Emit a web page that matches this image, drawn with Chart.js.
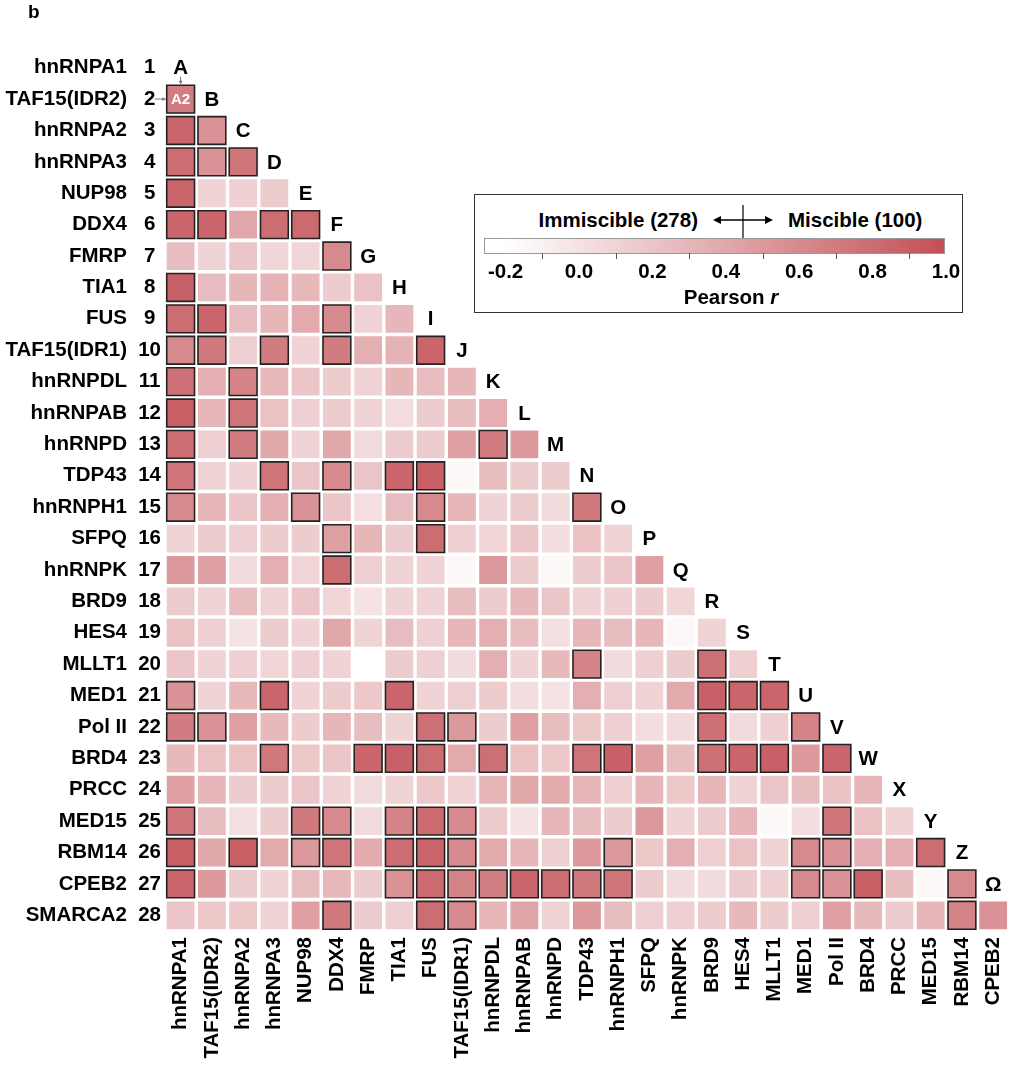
<!DOCTYPE html>
<html>
<head>
<meta charset="utf-8">
<title>Pairwise miscibility heatmap</title>
<script src="https://cdn.jsdelivr.net/npm/chart.js@4.4.0/dist/chart.umd.min.js"></script>
<style>
    html, body { margin: 0; padding: 0; background: #fff; }
    #wrap { position: relative; width: 1024px; height: 1089px; font-family: "Liberation Sans", Arial, sans-serif; color: #000; }
    #panel-label { position: absolute; left: 28px; top: 1px; font-size: 19px; font-weight: bold; }
    #legend { position: absolute; left: 474px; top: 194px; width: 487px; height: 117px; border: 1px solid #333; background: #fff; }
    #legend .txt { position: absolute; font-size: 20.5px; font-weight: bold; line-height: 24px; white-space: nowrap; }
    #legend .bar { position: absolute; left: 9px; top: 43px; width: 459px; height: 14px; border: 1px solid #999; }
    #legend .tick { position: absolute; top: 58px; width: 1px; height: 6px; background: #555; }
</style>
</head>
<body>
<div id="wrap">
    <canvas id="heatmap"></canvas>
    <div id="panel-label">b</div>
    <div id="legend"></div>
</div>
<script>
// proteins in row / column order
const proteins = ['hnRNPA1', 'TAF15(IDR2)', 'hnRNPA2', 'hnRNPA3', 'NUP98', 'DDX4', 'FMRP', 'TIA1', 'FUS',
    'TAF15(IDR1)', 'hnRNPDL', 'hnRNPAB', 'hnRNPD', 'TDP43', 'hnRNPH1', 'SFPQ', 'hnRNPK', 'BRD9', 'HES4',
    'MLLT1', 'MED1', 'Pol II', 'BRD4', 'PRCC', 'MED15', 'RBM14', 'CPEB2', 'SMARCA2'];

// letters written on the diagonal
const diagLetters = ['A', 'B', 'C', 'D', 'E', 'F', 'G', 'H', 'I', 'J', 'K', 'L', 'M', 'N', 'O', 'P', 'Q',
    'R', 'S', 'T', 'U', 'V', 'W', 'X', 'Y', 'Z', 'Ω'];

// Pearson r, row by row (row i holds columns 1..i-1)
const pearsonR = [
    [],
    [0.7],
    [0.85, 0.55],
    [0.8, 0.55, 0.75],
    [0.85, 0.1, 0.12, 0.15],
    [0.85, 0.85, 0.4, 0.8, 0.82],
    [0.25, 0.1, 0.2, 0.08, 0.08, 0.6],
    [0.88, 0.25, 0.3, 0.32, 0.28, 0.15, 0.22],
    [0.8, 0.85, 0.25, 0.3, 0.38, 0.6, 0.1, 0.3],
    [0.6, 0.72, 0.12, 0.7, 0.1, 0.7, 0.35, 0.32, 0.85],
    [0.78, 0.35, 0.65, 0.28, 0.2, 0.15, 0.1, 0.3, 0.25, 0.3],
    [0.9, 0.3, 0.75, 0.22, 0.12, 0.15, 0.1, 0.03, 0.15, 0.25, 0.35],
    [0.8, 0.12, 0.7, 0.4, 0.1, 0.4, 0.05, 0.15, 0.15, 0.45, 0.7, 0.5],
    [0.75, 0.1, 0.1, 0.75, 0.2, 0.6, 0.2, 0.85, 0.9, -0.15, 0.25, 0.15, 0.15],
    [0.6, 0.3, 0.2, 0.35, 0.55, 0.2, 0.02, 0.25, 0.6, 0.3, 0.1, 0.15, 0.05, 0.72],
    [0.1, 0.15, 0.12, 0.15, 0.15, 0.45, 0.3, 0.15, 0.8, 0.12, 0.08, 0.2, 0.03, 0.22, 0.1],
    [0.5, 0.45, 0.05, 0.35, 0.08, 0.8, 0.12, 0.1, 0.1, -0.15, 0.5, 0.15, -0.15, 0.15, 0.2, 0.45],
    [0.15, 0.1, 0.25, 0.1, 0.2, 0.08, 0.0, 0.1, 0.1, 0.25, 0.15, 0.28, 0.2, 0.1, 0.12, 0.15, 0.08],
    [0.22, 0.12, 0.0, 0.15, 0.1, 0.4, 0.1, 0.25, 0.12, 0.3, 0.35, 0.25, 0.02, 0.3, 0.25, 0.3, -0.15, 0.1],
    [0.2, 0.1, 0.12, 0.08, 0.12, 0.1, -0.2, 0.15, 0.12, 0.05, 0.35, 0.1, 0.28, 0.65, 0.05, 0.12, 0.15, 0.78, 0.12],
    [0.55, 0.1, 0.28, 0.85, 0.1, 0.15, 0.18, 0.85, 0.1, 0.12, 0.15, 0.03, 0.0, 0.35, 0.12, 0.1, 0.38, 0.88, 0.85, 0.85],
    [0.7, 0.55, 0.45, 0.28, 0.15, 0.3, 0.25, 0.1, 0.78, 0.5, 0.15, 0.45, 0.25, 0.18, 0.12, 0.03, 0.05, 0.78, 0.05, 0.12, 0.65],
    [0.28, 0.22, 0.22, 0.72, 0.18, 0.2, 0.85, 0.88, 0.8, 0.38, 0.78, 0.22, 0.18, 0.75, 0.88, 0.45, 0.25, 0.78, 0.85, 0.88, 0.5, 0.85],
    [0.45, 0.3, 0.15, 0.15, 0.2, 0.1, 0.05, 0.1, 0.18, 0.1, 0.3, 0.4, 0.38, 0.3, 0.12, 0.3, 0.18, 0.3, 0.1, 0.2, 0.25, 0.22, 0.3],
    [0.75, 0.25, 0.02, 0.15, 0.72, 0.6, 0.05, 0.65, 0.82, 0.6, 0.15, 0.0, 0.3, 0.25, 0.15, 0.5, 0.1, 0.15, 0.3, -0.15, 0.03, 0.75, 0.22, 0.1],
    [0.9, 0.4, 0.9, 0.38, 0.5, 0.75, 0.38, 0.8, 0.85, 0.6, 0.38, 0.3, 0.12, 0.5, 0.5, 0.18, 0.35, 0.12, 0.22, 0.1, 0.6, 0.55, 0.35, 0.35, 0.8],
    [0.85, 0.5, 0.15, 0.1, 0.25, 0.28, 0.15, 0.55, 0.82, 0.65, 0.68, 0.85, 0.8, 0.72, 0.75, 0.15, 0.05, 0.05, 0.15, 0.12, 0.6, 0.55, 0.9, 0.25, -0.15, 0.6],
    [0.2, 0.18, 0.18, 0.1, 0.45, 0.72, 0.15, 0.12, 0.8, 0.6, 0.3, 0.42, 0.1, 0.5, 0.25, 0.12, 0.12, 0.15, 0.28, 0.15, 0.12, 0.45, 0.28, 0.15, 0.3, 0.65, 0.55]
];

// columns of the miscible (outlined) pairs in each row
const miscibleCols = [
    [], [1], [1, 2], [1, 2, 3], [1], [1, 2, 4, 5], [6], [1], [1, 2, 6], [1, 2, 4, 6, 9],
    [1, 3], [1, 3], [1, 3, 11], [1, 4, 6, 8, 9], [1, 5, 9, 14], [6, 9], [6], [], [],
    [14, 18], [1, 4, 8, 18, 19, 20], [1, 2, 9, 10, 18, 21],
    [4, 7, 8, 9, 11, 14, 15, 18, 19, 20, 22], [],
    [1, 5, 6, 8, 9, 10, 22], [1, 3, 5, 6, 8, 9, 10, 15, 21, 22, 25],
    [1, 8, 9, 10, 11, 12, 13, 14, 15, 21, 22, 23, 26], [6, 9, 10, 26]
];

// colour scale
const rMin = -0.2;
const rMax = 1.0;
const legendTicks = [-0.2, 0.0, 0.2, 0.4, 0.6, 0.8, 1.0];
const legendMinorTicks = [-0.1, 0.1, 0.3, 0.5, 0.7, 0.9];
const lowRGB = [255, 255, 255];
const highRGB = [194, 80, 86];

const FONT = '"Liberation Sans", Arial, sans-serif';

function rColor(v) {
    const t = Math.max(0, Math.min(1, (v - rMin) / (rMax - rMin)));
    const c = lowRGB.map((lo, k) => Math.round(lo + (highRGB[k] - lo) * t));
    return `rgb(${c[0]}, ${c[1]}, ${c[2]})`;
}

// build cells
const cells = [];
const cellFill = [];
const cellBorder = [];
const cellBorderWidth = [];
pearsonR.forEach((row, i) => {
    row.forEach((v, j) => {
        const mis = miscibleCols[i].includes(j + 1);
        cells.push({ x: j + 1, y: i + 1, r: v });
        cellFill.push(rColor(v));
        cellBorder.push(mis ? '#222' : rColor(v));
        cellBorderWidth.push(mis ? 1.6 : 0);
    });
});

// half-diagonal of a square cell that fills ~89% of one column step
function cellRadius(ctx) {
    const s = ctx.chart.scales.x;
    const step = Math.abs(s.getPixelForValue(2) - s.getPixelForValue(1));
    return step * 0.89 / Math.SQRT2;
}

function drawArrow(ctx, x1, y1, x2, y2) {
    const a = Math.atan2(y2 - y1, x2 - x1);
    ctx.beginPath();
    ctx.moveTo(x1, y1);
    ctx.lineTo(x2, y2);
    ctx.stroke();
    ctx.beginPath();
    ctx.moveTo(x2, y2);
    ctx.lineTo(x2 - 4 * Math.cos(a - 0.5), y2 - 4 * Math.sin(a - 0.5));
    ctx.lineTo(x2 - 4 * Math.cos(a + 0.5), y2 - 4 * Math.sin(a + 0.5));
    ctx.closePath();
    ctx.fill();
}

// letters on the diagonal plus the A2 example
const diagonalPlugin = {
    id: 'diagonalLetters',
    afterDatasetsDraw(chart) {
        const { ctx, scales: { x, y } } = chart;
        ctx.save();
        ctx.fillStyle = '#000';
        ctx.font = 'bold 20.5px ' + FONT;
        ctx.textAlign = 'center';
        ctx.textBaseline = 'middle';
        diagLetters.forEach((l, i) => {
            ctx.fillText(l, x.getPixelForValue(i + 1), y.getPixelForValue(i + 1) + 1);
        });

        const cx = x.getPixelForValue(1);
        const cy = y.getPixelForValue(2);
        const half = cellRadius({ chart }) / Math.SQRT2;
        ctx.fillStyle = '#fff';
        ctx.font = 'bold 15px ' + FONT;
        ctx.fillText('A2', cx, cy + 1);

        ctx.strokeStyle = '#7a7a7a';
        ctx.fillStyle = '#7a7a7a';
        ctx.lineWidth = 1;
        drawArrow(ctx, cx, y.getPixelForValue(1) + 9, cx, cy - half - 1);
        drawArrow(ctx, cx - half - 12, cy, cx - half - 1, cy);
        ctx.restore();
    }
};

function fixedTicks(count) {
    return scale => {
        scale.ticks = Array.from({ length: count }, (_, i) => ({ value: i + 1 }));
    };
}

const tickFont = { family: FONT, size: 20.5, weight: 'bold' };
const noGrid = { display: false, drawTicks: false };

new Chart(document.getElementById('heatmap'), {
    type: 'scatter',
    data: {
        datasets: [{
            data: cells,
            pointStyle: 'rect',
            pointRadius: cellRadius,
            pointHoverRadius: cellRadius,
            backgroundColor: cellFill,
            borderColor: cellBorder,
            borderWidth: cellBorderWidth,
            yAxisID: 'y'
        }]
    },
    options: {
        responsive: true,
        maintainAspectRatio: false,
        animation: false,
        events: [],
        layout: { padding: { top: 52, right: 12, left: 0, bottom: 0 } },
        plugins: {
            legend: { display: false },
            tooltip: { enabled: false }
        },
        scales: {
            x: {
                type: 'linear',
                position: 'bottom',
                min: 0.5,
                max: 27.5,
                afterBuildTicks: fixedTicks(27),
                afterFit: scale => { scale.height = 158; },
                grid: noGrid,
                border: { display: false },
                ticks: {
                    autoSkip: false,
                    minRotation: 90,
                    maxRotation: 90,
                    padding: 6,
                    color: '#000',
                    font: tickFont,
                    callback: v => proteins[v - 1]
                }
            },
            y: {
                type: 'linear',
                position: 'left',
                weight: 0,
                reverse: true,
                min: 0.5,
                max: 28.5,
                afterBuildTicks: fixedTicks(28),
                afterFit: scale => { scale.width = 30; },
                grid: noGrid,
                border: { display: false },
                ticks: {
                    autoSkip: false,
                    crossAlign: 'center',
                    padding: 4,
                    color: '#000',
                    font: tickFont,
                    callback: v => String(v)
                }
            },
            yName: {
                type: 'linear',
                position: 'left',
                weight: 1,
                reverse: true,
                min: 0.5,
                max: 28.5,
                afterBuildTicks: fixedTicks(28),
                afterFit: scale => { scale.width = 135; },
                grid: noGrid,
                border: { display: false },
                ticks: {
                    autoSkip: false,
                    crossAlign: 'near',
                    padding: 8,
                    color: '#000',
                    font: tickFont,
                    callback: v => proteins[v - 1]
                }
            }
        }
    },
    plugins: [diagonalPlugin]
});

// colour bar legend (box at left 474)
function buildLegend() {
    const box = document.getElementById('legend');
    const boxLeft = 474;
    const xOf = v => 578 + 367 * v - boxLeft;   // value -> x inside the box
    const barLeft = 9, barWidth = 461;

    const add = (html, style, cls) => {
        const el = document.createElement('div');
        el.className = cls || 'txt';
        el.innerHTML = html;
        Object.assign(el.style, style);
        box.appendChild(el);
        return el;
    };

    add('Immiscible (278)', { right: (487 - 223) + 'px', top: '13px' });
    add('Miscible (100)', { left: '313px', top: '13px' });

    const startPct = ((xOf(rMin) - barLeft) / barWidth * 100).toFixed(1);
    add('', { background: `linear-gradient(to right, ${rColor(rMin)} 0%, ${rColor(rMin)} ${startPct}%, ${rColor(rMax)} 100%)` }, 'bar');

    legendMinorTicks.forEach(v => add('', { left: xOf(v) + 'px' }, 'tick'));
    legendTicks.forEach(v => {
        add(v.toFixed(1), { left: (xOf(v) - 40) + 'px', width: '80px', textAlign: 'center', top: '64px' });
    });
    add('Pearson <i>r</i>', { left: '176px', width: '160px', textAlign: 'center', top: '90px' });

    // threshold line with arrows
    const svgNS = 'http://www.w3.org/2000/svg';
    const svg = document.createElementNS(svgNS, 'svg');
    svg.setAttribute('width', '80');
    svg.setAttribute('height', '34');
    Object.assign(svg.style, { position: 'absolute', left: '228px', top: '10px' });
    svg.innerHTML =
        '<line x1="40" y1="0" x2="40" y2="33" stroke="#000" stroke-width="1.2"/>' +
        '<line x1="14" y1="15" x2="66" y2="15" stroke="#000" stroke-width="1.5"/>' +
        '<polygon points="10,15 18,11 18,19" fill="#000"/>' +
        '<polygon points="70,15 62,11 62,19" fill="#000"/>';
    box.appendChild(svg);
}
buildLegend();
</script>
</body>
</html>
